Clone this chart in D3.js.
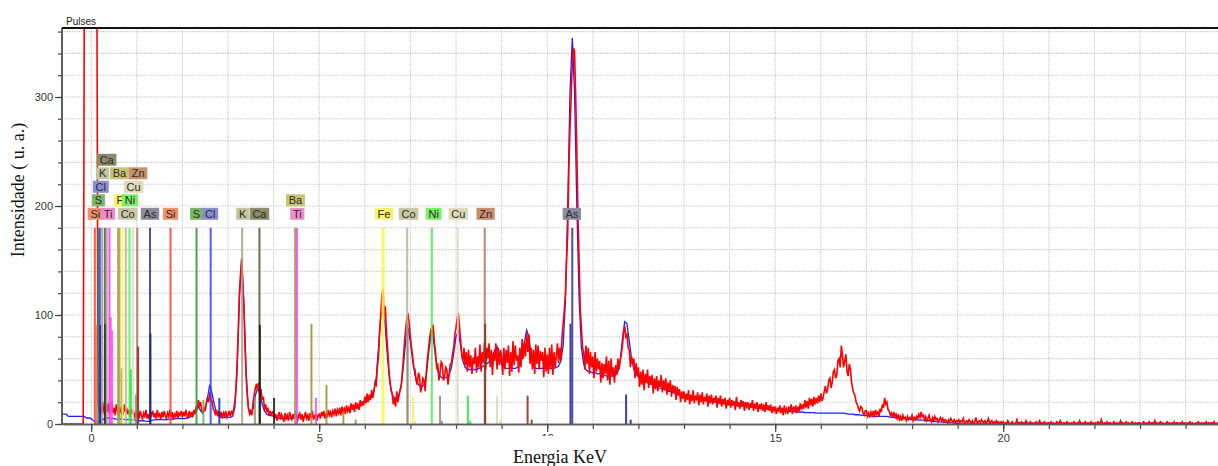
<!DOCTYPE html>
<html><head><meta charset="utf-8">
<script src="https://cdn.jsdelivr.net/npm/d3@7"></script>
<style>body{margin:0;background:#fff;}svg{display:block;}</style>
</head><body>
<svg id="chart" width="1218" height="466"></svg>
<script>
// ---- spectrum channels (keV calibration) ----
const channelStart = -1.0;
const measuredStep = 0.025;
const fittedStep = 0.05;

// measured spectrum (red), 40 channels per keV row
const measured = [
0,0,0,0,0,0,0,0,0,0,0,0,0,0,0,0,0,0,0,0,0,0,0,0,0,0,0,0,0,0,0,0,0,0,400,400,400,400,400,400,
400,400,400,400,400,400,25,10,16,9,20,12,8,17,11,19,9,14,21,10,15,8,18,12,7,16,10,14,8,18,11,15,9,13,6,14,10,12,5,11,
6,11,5,12,8,4,10,7,13,5,9,4,11,8,12,6,10,5,13,7,9,4,11,6,12,8,5,10,7,13,6,11,4,9,7,12,5,10,8,12,
6,11,7,13,8,5,12,7,11,6,13,9,16,13,22,17,20,12,10,15,12,19,24,20,29,23,21,14,12,8,13,7,12,6,11,5,10,7,12,6,
8,12,7,11,9,14,20,32,55,85,120,138,152,130,105,70,42,24,14,9,12,8,20,27,33,37,31,38,27,32,22,25,13,18,11,15,8,12,7,11,
10,5,9,3,8,11,4,9,6,2,10,5,8,3,11,7,4,9,5,12,6,3,8,10,4,9,2,7,11,5,8,3,10,6,12,4,7,9,3,8,
9,5,11,7,12,5,10,6,13,8,11,6,12,9,14,7,13,10,15,8,16,11,14,9,17,12,15,10,19,13,18,11,20,14,19,13,22,16,21,17,
25,19,28,20,27,22,31,24,30,38,36,52,62,85,100,118,124,98,108,85,70,52,40,31,28,18,24,16,30,20,26,31,35,48,62,78,88,98,100,92,
80,70,62,52,50,40,36,47,44,29,35,42,40,30,48,60,70,80,86,84,91,75,66,52,54,40,47,57,55,40,44,52,50,36,46,55,56,64,70,82,
88,96,102,90,78,64,58,70,54,66,48,68,52,63,46,61,55,70,47,62,52,73,48,66,56,75,50,70,60,74,52,68,45,66,58,74,50,70,54,68,
62,45,70,50,68,56,72,44,66,48,76,54,72,58,63,47,70,52,78,60,75,62,84,66,82,55,70,50,68,46,73,55,72,50,67,58,66,43,70,48,
64,46,70,50,73,45,66,52,62,74,56,70,58,80,92,104,120,150,175,235,270,300,330,345,342,300,250,190,150,105,88,70,66,50,72,55,70,46,66,52,
62,42,66,48,60,50,58,38,56,42,55,46,62,40,58,36,60,44,52,38,54,45,60,50,58,64,72,84,90,80,82,70,68,52,62,55,60,42,56,44,
52,34,48,36,50,31,46,38,50,33,44,36,45,28,42,32,44,30,40,34,45,29,40,31,42,27,38,30,40,25,36,29,35,22,34,26,32,20,30,23,
30,20,28,22,31,18,27,21,31,19,26,23,29,17,27,20,29,18,25,21,28,16,26,19,27,18,24,20,26,15,24,19,26,16,23,18,24,14,22,17,
24,15,22,17,21,13,25,16,20,14,22,17,21,12,20,16,20,13,19,15,22,12,19,14,20,11,18,15,19,12,18,11,20,13,17,12,18,10,16,12,
16,9,15,11,17,10,15,8,17,11,14,9,16,12,18,9,16,11,17,10,16,12,19,13,18,14,22,15,21,14,24,17,23,16,25,18,24,19,26,20,
28,21,24,30,35,28,32,40,42,33,38,48,50,42,45,58,60,52,72,62,52,58,64,48,44,55,50,38,32,28,26,20,18,14,12,16,15,10,8,12,
12,7,10,6,11,8,12,6,13,9,11,7,14,11,18,15,24,18,20,13,12,8,10,6,11,7,9,5,9,4,7,3,8,5,6,3,7,4,6,5,
8,3,6,4,7,5,9,6,11,7,8,4,7,3,5,8,4,2,6,3,7,4,5,2,4,6,3,5,2,4,3,1,4,2,5,3,2,4,1,3,
2,4,1,3,2,5,1,2,3,1,4,2,1,3,0,2,6,1,2,3,1,4,2,1,3,1,2,5,1,2,3,0,2,1,3,1,2,0,2,1,
2,0,1,0,3,1,0,1,2,0,0,1,4,0,1,1,2,0,1,0,3,1,0,1,2,0,1,0,1,2,0,1,3,0,1,0,2,1,0,1,
1,0,2,0,1,0,0,2,1,0,3,1,0,1,1,0,2,0,1,0,1,0,2,1,0,1,0,3,1,0,1,0,2,0,1,1,0,2,0,1,
0,1,0,2,1,0,4,1,0,1,0,2,0,1,1,0,0,2,1,0,1,0,1,3,0,1,0,1,2,0,1,0,0,2,1,0,1,0,1,1,
1,0,0,2,1,0,1,0,2,0,1,1,0,3,0,1,0,1,2,0,1,0,0,1,2,0,1,0,1,0,2,0,1,1,0,1,0,2,0,1,
0,1,0,1,2,0,1,0,0,1,0,2,1,0,1,0,1,0,2,0,1,0,1,1,0,2,0,0,1,0,1,0,2,0,1,0,1,0,1,0
];

// fitted spectrum (blue), 20 channels per keV row
const fitted = [
9,9,9,9,9,9,9,9,9,9,7,7,7,7,7,7,7,7,5.5,5.5,
5,3,2,2,3,4,5,5.5,5.5,5.5,5,4.5,4.5,4.5,4.5,4,4,4,4,3.5,
3.5,3,3,3,2.5,2.5,3,3.5,4,4,4,4,4,4,4.5,4.5,4.5,5,5,5,
5,5,5.5,6,7,9,13,16,12,10,14,24,36,28,18,10,8,6,6,6,
6,6,7,15,50,115,150,110,45,14,10,14,26,33,28,18,12,9,8,8,
7,6,5.5,5,5,5,5,5,5,5.5,6,6,6,6.5,6.5,6.5,7,7,7.5,7.5,
8,8,8.5,9,9,9.5,10,10.5,11,11.5,12,12.5,13,14,14.5,15,16,17,18,19,
20,21,23,25,30,42,70,98,105,88,60,38,27,24,24,27,36,55,78,88,
75,58,45,38,35,34,36,45,65,82,80,62,50,44,42,42,43,45,52,65,
80,85,72,58,52,50,50,50,50,50,51,52,53,55,56,58,62,68,71,62,
54,52,51,51,51,51,51,52,54,60,75,86,80,62,53,51,51,51,51,51,
51,51,51,51,52,53,58,72,114,200,304,354,304,200,114,70,55,50,48,48,
47,47,46,46,45,45,44,44,44,44,45,48,58,78,94,92,76,60,50,46,
43,41,40,39,38,37,36,35,34,33,33,32,31,30,30,29,28,27,27,26,
25.5,25,24.5,24,23.5,23,22.5,22,22,21.5,21,21,20.5,20,20,19.5,19,19,18.5,18,
18,17.5,17.5,17,17,16.5,16.5,16,16,15.5,15.5,15,15,14.5,14.5,14,14,13.5,13.5,13,
13,12.5,12.5,12,12,12,11.5,11.5,11.5,11,11,11,11,10.5,10.5,10.5,10.5,10.5,10,10,
10,10,10,10,10,10,10,10,10,10,10,9.5,9,9,9,8.5,8.5,8.5,8,8,
8,7.5,7.5,7,7,7,7,7,7,7,6.5,6,6,5.5,5.5,5,5,5,4.5,4.5,
4,4,4,3.5,3.5,3.5,3,3,3,2.5,2.5,2,2,2,1.5,1.5,1,1,1,0.5,
0.5,0,0,0,0,0,0,0,0,0,0,0,0,0,0,0,0,0,0,0,
0,0,0,0,0,0,0,0,0,0,0,0,0,0,0,0,0,0,0,0,
0,0,0,0,0,0,0,0,0,0,0,0,0,0,0,0,0,0,0,0,
0,0,0,0,0,0,0,0,0,0,0,0,0,0,0,0,0,0,0,0,
0,0,0,0,0,0,0,0,0,0,0,0,0,0,0,0,0,0,0,0,
0,0,0,0,0,0,0,0,0,0,0,0,0,0,0,0,0,0,0,0
];

// element reference lines
const lineElement = ['Si','Si','S','Cl','Cl','K','Ca','Ca','K','Ti','Ti','Ti','Ba','Ba','Co','F','Co','Ni','Ni','Cu','Co','Zn','Zn','As','As',
  'Si','S','S','Cl','Cl','K','K','Ca','Ca','Ca','Ba','Ti','Ba','Ti','Ba','Ba','Ba',
  'Fe','Co','Co','Fe','Fe','Ni','Co','Co','Cu','Ni','Ni','Zn','Zn','Cu','Cu','Zn','Zn','As','As','As','As'];
const lineEnergy = [0.08,0.12,0.16,0.19,0.20,0.24,0.30,0.31,0.34,0.40,0.43,0.46,0.59,0.62,0.67,0.69,0.76,0.84,0.87,0.92,0.98,1.01,1.03,1.29,1.30,
  1.74,2.31,2.46,2.62,2.81,3.31,3.59,3.69,3.70,4.01,4.47,4.51,4.83,4.93,5.16,5.53,5.80,
  6.40,6.93,6.94,7.06,7.10,7.47,7.65,7.69,8.04,8.26,8.31,8.63,8.64,8.90,8.97,9.57,9.66,10.51,10.55,11.73,11.83];
const lineHeight = [180,91,180,180,91,180,180,92,180,180,98,86,180,180,51,180,180,180,50,180,27,180,71,180,83,
  180,180,22,180,24,180,25,180,91,24,180,180,92,24,36,12,4,
  180,180,92,25,3,180,26,3,180,26,3,180,92,26,3,26,4,92,180,27,4];
const lineKind = [1,0,1,1,0,1,1,0,1,1,0,0,1,1,0,1,1,1,0,1,0,1,0,1,0,
  1,1,0,1,0,1,0,1,0,0,1,1,0,0,0,0,0,
  1,1,0,0,0,1,0,0,1,0,0,1,0,0,0,0,0,0,1,0,0];

// element labels
const labelElement = ['Si','Ti','Co','As','Si','S','Cl','K','Ca','Ti','Fe','Co','Ni','Cu','Zn','As','S','F','Ni','Ba','Cl','Cu','K','Ba','Zn','Ca'];
const labelEnergy = [0.09,0.37,0.80,1.29,1.74,2.31,2.61,3.32,3.69,4.52,6.42,6.96,7.51,8.05,8.65,10.54,0.16,0.63,0.85,4.48,0.21,0.93,0.25,0.62,1.03,0.34];
const labelRow = [0,0,0,0,0,0,0,0,0,0,0,0,0,0,0,0,1,1,1,1,2,2,3,3,3,4];

// axes
const xTickLabels = [0,5,10,15,20];
const yTickLabels = [0,100,200,300];

// ---- styles ----
const mainColor = {Si:'#ff3a2a',S:'#2a962a',Cl:'#3a3aff',K:'#a0a08c',Ca:'#55553a',Ti:'#ff30ff',Ba:'#a8a040',F:'#f8f840',Fe:'#f8f840',Co:'#b4b49c',Ni:'#4af04a',Cu:'#dcdcc4',Zn:'#b07058',As:'#30309a'};
const minorColor = {Si:'#f07048',S:'#60b060',Cl:'#2020c0',K:'#909080',Ca:'#1a1a0a',Ti:'#ff50e0',Ba:'#9a9030',F:'#f0f050',Fe:'#f0f050',Co:'#8c8c74',Ni:'#30e030',Cu:'#d8d8b8',Zn:'#8a2a14',As:'#20208a'};
const boxColor = {Si:'#f0906a',Ti:'#f08ccc',Co:'#c8c8a4',As:'#8c8c9c',S:'#78b864',Cl:'#8c8cd2',K:'#c4c4a0',Ca:'#8c8c68',Ba:'#c8c474',F:'#f4f46c',Ni:'#78f064',Cu:'#dcdcb8',Zn:'#c8906c',Fe:'#f4f46c'};

const svg = d3.select('#chart');
const L = 62, R = 1218, T = 28, B = 424;
const x = d3.scaleLinear().domain([-0.64, 24.71]).range([L, R]);
const y = d3.scaleLinear().domain([0, 363.3]).range([B, T]);

svg.append('defs').append('clipPath').attr('id','plotclip')
  .append('rect').attr('x',L).attr('y',T).attr('width',R-L).attr('height',B-T);

// grid
const grid = svg.append('g').attr('stroke','#c4c4c4').attr('stroke-width',1.1).attr('stroke-dasharray','1.2,1.2');
grid.selectAll('line.gx').data(d3.range(0,25,1)).join('line').attr('class','gx')
  .attr('x1',d=>x(d)).attr('x2',d=>x(d)).attr('y1',T).attr('y2',B);
grid.selectAll('line.gy').data(d3.range(20,361,20)).join('line').attr('class','gy')
  .attr('x1',L).attr('x2',R).attr('y1',d=>y(d)).attr('y2',d=>y(d));

// spectra
const toPts = (arr, step) => arr.map((v,i)=>[channelStart + i*step, v]);
const line = d3.line().x(d=>x(d[0])).y(d=>y(d[1]));
const plot = svg.append('g').attr('clip-path','url(#plotclip)');
plot.append('path').datum(toPts(fitted, fittedStep)).attr('d',line).attr('fill','none').attr('stroke','#1f1fff').attr('stroke-width',1.3);
plot.append('path').datum(toPts(measured, measuredStep)).attr('d',line).attr('fill','none').attr('stroke','#ff0000').attr('stroke-width',1.6).attr('stroke-linejoin','miter');

// element lines
const lines = lineElement.map((e,i)=>({e, en:lineEnergy[i], h:lineHeight[i], k:lineKind[i]}));
plot.append('g').selectAll('line').data(lines).join('line')
  .attr('x1',d=>x(d.en)).attr('x2',d=>x(d.en))
  .attr('y1',y(0)).attr('y2',d=>y(d.h))
  .attr('stroke',d=>d.k ? mainColor[d.e] : minorColor[d.e])
  .attr('stroke-width',d=>d.e==='Fe' && d.k ? 3 : 2)
  .attr('opacity',0.85);

// labels
const labels = labelElement.map((e,i)=>({e, en:labelEnergy[i], r:labelRow[i]}));
const lg = svg.append('g').attr('font-family','"Liberation Sans", Arial, sans-serif').attr('font-size',11);
labels.forEach(d=>{
  const g = lg.append('g');
  const bottom = y(180) - 8 - 13.5*d.r;
  const rect = g.append('rect').attr('fill',boxColor[d.e]);
  const t = g.append('text').attr('x',x(d.en)).attr('y',bottom-2).attr('text-anchor','middle').attr('fill','#2a2a2a').text(d.e);
  const w = t.node().getComputedTextLength() + 5.5;
  rect.attr('x',x(d.en)-w/2).attr('y',bottom-12).attr('width',w).attr('height',12);
});

// axes
const font = '"Liberation Sans", Arial, sans-serif';
const gyMinor = svg.append('g').attr('transform',`translate(${L},0)`)
  .call(d3.axisLeft(y).tickValues(d3.range(0,361,20)).tickSize(4).tickFormat('').tickSizeOuter(0));
const gyMajor = svg.append('g').attr('transform',`translate(${L},0)`)
  .call(d3.axisLeft(y).tickValues(yTickLabels).tickSize(7).tickPadding(2).tickSizeOuter(0));
const gxMinor = svg.append('g').attr('transform',`translate(0,${B})`)
  .call(d3.axisBottom(x).tickValues(d3.range(0,25,1)).tickSize(5).tickFormat('').tickSizeOuter(0));
const gxMajor = svg.append('g').attr('transform',`translate(0,${B})`)
  .call(d3.axisBottom(x).tickValues(xTickLabels).tickSize(8).tickPadding(2).tickSizeOuter(0));
[gyMinor,gyMajor,gxMinor,gxMajor].forEach(g=>{
  g.selectAll('.domain').attr('stroke','#5a5a5a').attr('stroke-width',1.6);
  g.selectAll('.tick line').attr('stroke','#444').attr('stroke-width',1.2);
  g.selectAll('.tick text').attr('font-family',font).attr('font-size',11).attr('fill','#333');
});
gyMajor.select('.domain').attr('d',`M0,${T}V${B}`);
gyMinor.select('.domain').attr('d',`M0,${T}V${B}`);

// top border
svg.append('line').attr('x1',L).attr('x2',R).attr('y1',T).attr('y2',T).attr('stroke','#111').attr('stroke-width',2);

// title texts
svg.append('text').attr('x',66).attr('y',25).attr('font-family',font).attr('font-size',10).attr('fill','#222').text('Pulses');
svg.append('rect').attr('x',500).attr('y',436).attr('width',120).attr('height',30).attr('fill','#fff');
svg.append('text').attr('x',560).attr('y',463).attr('text-anchor','middle')
  .attr('font-family','"Liberation Serif", "Times New Roman", serif').attr('font-size',18).attr('fill','#111').text('Energia KeV');
svg.append('text').attr('transform','translate(24,190) rotate(-90)').attr('text-anchor','middle')
  .attr('font-family','"Liberation Serif", "Times New Roman", serif').attr('font-size',18).attr('fill','#111').text('Intensidade ( u. a.)');
</script>
</body></html>
